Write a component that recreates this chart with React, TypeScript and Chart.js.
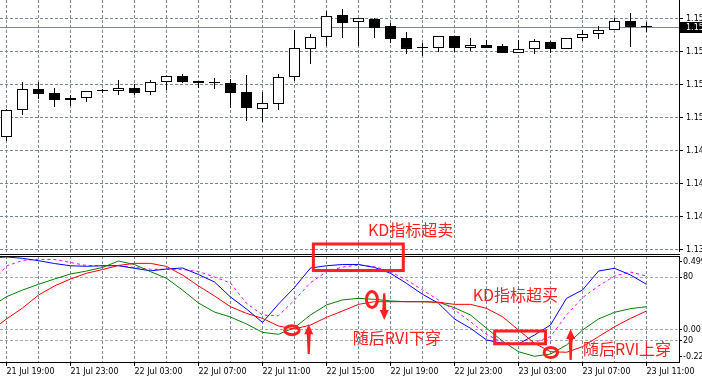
import React, { useEffect, useRef } from 'react';
import { Chart, registerables } from 'chart.js';

Chart.register(...registerables);

// ---- data (hourly bars; first entry is bar -1, just left of the view) ----
const timeLabels = [
  '21 Jul 19:00', '21 Jul 23:00', '22 Jul 03:00', '22 Jul 07:00', '22 Jul 11:00', '22 Jul 15:00',
  '22 Jul 19:00', '22 Jul 23:00', '23 Jul 03:00', '23 Jul 07:00', '23 Jul 11:00',
];

const openP = [1.14827, 1.14873, 1.15118, 1.15309, 1.15273, 1.15227, 1.15227, 1.15291, 1.15291, 1.15318, 1.15282,
  1.15373, 1.15427, 1.15382, 1.15364, 1.15364, 1.15282, 1.15127, 1.15173, 1.15418, 1.15673, 1.15782, 1.15982,
  1.15918, 1.15945, 1.15882, 1.15773, 1.15682, 1.15682, 1.15791, 1.15682, 1.15709, 1.157, 1.15636, 1.15673,
  1.15736, 1.15673, 1.15773, 1.15809, 1.15845, 1.15927, 1.15873];
const highP = [1.14882, 1.15127, 1.15373, 1.15373, 1.15318, 1.15255, 1.15291, 1.15309, 1.15391, 1.15355, 1.15391,
  1.15432, 1.15445, 1.15382, 1.15409, 1.154, 1.15436, 1.15282, 1.15445, 1.15845, 1.15809, 1.16018, 1.16036,
  1.15955, 1.15955, 1.15909, 1.15827, 1.15727, 1.15791, 1.15791, 1.15773, 1.15755, 1.15718, 1.15755, 1.15764,
  1.15745, 1.15773, 1.15845, 1.15882, 1.15955, 1.16, 1.15918];
const lowP = [1.14773, 1.14836, 1.15073, 1.15218, 1.15145, 1.15155, 1.15191, 1.15273, 1.15255, 1.15255, 1.15255,
  1.153, 1.15364, 1.15318, 1.15309, 1.15136, 1.15018, 1.15009, 1.15118, 1.15382, 1.15536, 1.157, 1.15773,
  1.157, 1.15773, 1.15727, 1.15627, 1.15609, 1.15645, 1.15645, 1.15655, 1.15682, 1.15636, 1.15636, 1.15627,
  1.15636, 1.15673, 1.15745, 1.15764, 1.15845, 1.15691, 1.15827];
const closeP = [1.14873, 1.15118, 1.15309, 1.15264, 1.15209, 1.15209, 1.15291, 1.15291, 1.15318, 1.15273, 1.15373,
  1.15427, 1.15373, 1.15364, 1.15364, 1.15273, 1.15136, 1.15182, 1.15418, 1.15682, 1.15782, 1.15973, 1.15909,
  1.15955, 1.15864, 1.15764, 1.15673, 1.15682, 1.15791, 1.15682, 1.15709, 1.15682, 1.15636, 1.15673, 1.15745,
  1.15673, 1.15773, 1.15809, 1.15845, 1.15927, 1.15873, 1.15873];

const stochMain = [98.1, 99.1, 97.8, 95.6, 92.9, 90.8, 90.3, 90.8, 90.8, 88.4, 86.0, 87.7, 88.7, 82.5, 75.5, 61.3,
  50.0, 37.3, 54.7, 70.3, 88.7, 90.8, 92.0, 92.0, 89.2, 83.7, 74.2, 63.9, 55.4, 40.6, 31.8, 20.8, 17.6, 17.0,
  25.5, 34.9, 60.1, 67.9, 85.8, 88.4, 82.1, 73.3];
const stochSignal = [73.6, 90.6, 95.8, 96.9, 96.7, 93.9, 91.0, 90.8, 91.0, 89.2, 87.5, 87.5, 87.3, 85.4, 80.2, 74.5,
  55.4, 44.3, 43.7, 58.5, 74.8, 85.2, 89.6, 91.5, 89.9, 85.2, 77.4, 67.9, 58.5, 49.1, 38.0, 26.1, 18.6, 17.3,
  18.6, 23.9, 44.3, 60.7, 71.7, 81.1, 84.9, 81.1];
const rviMain = [0.153, 0.223, 0.268, 0.307, 0.343, 0.377, 0.397, 0.421, 0.465, 0.441, 0.393, 0.348, 0.268, 0.18,
  0.119, 0.085, 0.038, -0.019, -0.032, 0.013, 0.099, 0.167, 0.201, 0.212, 0.205, 0.194, 0.189, 0.189, 0.185,
  0.148, 0.099, 0.009, -0.078, -0.15, -0.181, -0.166, -0.105, -0.003, 0.072, 0.117, 0.142, 0.155];
const rviSignal = [-0.01, 0.072, 0.146, 0.234, 0.296, 0.343, 0.382, 0.407, 0.435, 0.449, 0.449, 0.428, 0.37, 0.296,
  0.228, 0.155, 0.11, 0.076, 0.024, 0.004, 0.031, 0.083, 0.126, 0.171, 0.189, 0.189, 0.189, 0.189, 0.185,
  0.171, 0.171, 0.144, 0.087, -0.003, -0.093, -0.15, -0.154, -0.116, -0.048, 0.019, 0.076, 0.126];

const priceTicks = [1.1595, 1.1565, 1.1535, 1.1505, 1.1475, 1.1445, 1.1415, 1.1385];
const stochLevels = [80, 20];
const stochLevelLabels = ['80', '20'];
const rviLevels = [0];
const rviLevelLabels = ['0.00'];
const rviRange = [-0.22, 0.499];
const rviRangeLabels = ['-0.220', '0.499'];

// ---- annotations (data coordinates: x = bar index, y = panel value) ----
const oversoldBox = { x0: 19.18, x1: 24.8, topPrice: 1.139, bottomStoch: 86.3 };
const overboughtBox = { x0: 30.51, x1: 33.69, top: 29.2, bottom: 17.2 };
const topNote = { text: 'KD指标超卖', x: 22.59, price: 1.1403 };
const stochNotes = [{ text: 'KD指标超买', x: 29.14, value: 63.5 }];
const rviNotes = [
  { text: '随后RVI下穿', x: 21.64, value: -0.054 },
  { text: '随后RVI上穿', x: 36.03, value: -0.133 },
];
const rviRings = [
  { x: 17.84, value: -0.004, rx: 7.2, ry: 4.5 },
  { x: 22.84, value: 0.204, rx: 5.5, ry: 8 },
  { x: 34.02, value: -0.156, rx: 6.7, ry: 5 },
];
const rviArrows = [
  { x: 18.89, from: -0.165, to: 0.036 },
  { x: 23.61, from: 0.246, to: 0.065 },
  { x: 35.26, from: -0.206, to: 0.004 },
];

// ---- view / layout ----
const W = 702;
const TOP_H = 252;
const BOT_H = 125;
const AXIS_W = 23;
const LOWER_TOP_PAD = 4;
const X_AXIS_H = 15;
const LOWER_PLOT_H = BOT_H - LOWER_TOP_PAD - X_AXIS_H;
const X_MIN = -0.40625;
const X_MAX = 42.03125;
const PRICE_MIN = 1.13827;
const PRICE_MAX = 1.16118;
const GRID = '#778899';
const LEVEL = '#a8a8a8';
const ANNO = '#ff2020';
const AXIS_FONT = { family: 'DejaVu Sans', size: 8 };
const CJK_FONT = '16px "Noto Sans CJK SC"';

const gridSteps: number[] = [];
for (let v = 0; v <= 40; v += 2) gridSteps.push(v);

const xs = openP.map((_, i) => i - 1);

const rviToStoch = (r: number) => ((r - rviRange[0]) / (rviRange[1] - rviRange[0])) * 100;
const EDGE_INSET = (5.5 / LOWER_PLOT_H) * 100;

const lowerYTicks = [
  ...stochLevels.map((v, i) => ({ value: v, label: stochLevelLabels[i], level: true })),
  ...rviLevels.map((r, i) => ({ value: rviToStoch(r), label: rviLevelLabels[i], level: true })),
  { value: EDGE_INSET, label: rviRangeLabels[0], level: false },
  { value: 100 - EDGE_INSET, label: rviRangeLabels[1], level: false },
].sort((a, b) => a.value - b.value);

const fitY = (s: any) => {
  s.width = AXIS_W;
  s.paddingTop = 0; s.paddingBottom = 0; s.paddingLeft = 0; s.paddingRight = 0;
};
const fitX = (h: number) => (s: any) => {
  s.height = h;
  s.paddingTop = 0; s.paddingBottom = 0; s.paddingLeft = 0; s.paddingRight = 0;
};

function drawArrow(ctx: CanvasRenderingContext2D, x: number, yTail: number, yTip: number) {
  const dir = Math.sign(yTip - yTail);
  const head = 10;
  const half = 4.5;
  const yb = yTip - dir * head;
  ctx.beginPath();
  ctx.moveTo(x, yTip);
  ctx.lineTo(x + half, yb);
  ctx.lineTo(x + 2, yb);
  ctx.lineTo(x + 1.1, yTail);
  ctx.lineTo(x - 1.1, yTail);
  ctx.lineTo(x - 2, yb);
  ctx.lineTo(x - half, yb);
  ctx.closePath();
  ctx.fill();
}

const topDecor = {
  id: 'topDecor',
  beforeDatasetsDraw(chart: any) {
    const { ctx, chartArea: a, scales } = chart;
    const last = closeP[closeP.length - 1];
    const py = Math.round(scales.y.getPixelForValue(last)) + 0.5;
    ctx.save();
    ctx.strokeStyle = GRID;
    ctx.lineWidth = 1;
    ctx.beginPath();
    ctx.moveTo(a.left, py);
    ctx.lineTo(a.right, py);
    ctx.stroke();
    ctx.restore();
  },
  afterDraw(chart: any) {
    const { ctx, chartArea: a, scales } = chart;
    const { x, y } = scales;
    const last = closeP[closeP.length - 1];
    const py = Math.round(y.getPixelForValue(last));
    ctx.save();
    ctx.fillStyle = '#000';
    ctx.fillRect(a.right + 1, py - 5, chart.width - a.right - 1, 11);
    ctx.fillStyle = '#fff';
    ctx.font = '8px "DejaVu Sans"';
    ctx.textBaseline = 'middle';
    ctx.textAlign = 'left';
    ctx.fillText(last.toFixed(5), a.right + 7, py + 0.5);

    ctx.strokeStyle = ANNO;
    ctx.lineWidth = 3;
    const bx0 = x.getPixelForValue(oversoldBox.x0);
    const bx1 = x.getPixelForValue(oversoldBox.x1);
    const by0 = y.getPixelForValue(oversoldBox.topPrice);
    ctx.strokeRect(bx0, by0, bx1 - bx0, chart.height + 30 - by0);

    ctx.fillStyle = ANNO;
    ctx.font = CJK_FONT;
    ctx.fillText(topNote.text, x.getPixelForValue(topNote.x), y.getPixelForValue(topNote.price));
    ctx.restore();
  },
};

const lowerDecor = {
  id: 'lowerDecor',
  afterDraw(chart: any) {
    const { ctx, chartArea: a, scales } = chart;
    const { x, y, y2 } = scales;
    ctx.save();
    ctx.fillStyle = '#000';
    ctx.fillRect(0, a.top - 2, a.right + 1, 1);
    ctx.fillRect(0, a.top, a.right + 1, 1);

    ctx.strokeStyle = ANNO;
    ctx.fillStyle = ANNO;
    ctx.lineWidth = 3;
    {
      const bx0 = x.getPixelForValue(oversoldBox.x0);
      const bx1 = x.getPixelForValue(oversoldBox.x1);
      const by1 = y.getPixelForValue(oversoldBox.bottomStoch);
      ctx.strokeRect(bx0, -30, bx1 - bx0, by1 + 30);
    }
    {
      const bx0 = x.getPixelForValue(overboughtBox.x0);
      const bx1 = x.getPixelForValue(overboughtBox.x1);
      const by0 = y.getPixelForValue(overboughtBox.top);
      const by1 = y.getPixelForValue(overboughtBox.bottom);
      ctx.strokeRect(bx0, by0, bx1 - bx0, by1 - by0);
    }
    for (const r of rviRings) {
      ctx.beginPath();
      ctx.ellipse(x.getPixelForValue(r.x), y2.getPixelForValue(r.value), r.rx, r.ry, 0, 0, Math.PI * 2);
      ctx.stroke();
    }
    for (const ar of rviArrows) {
      drawArrow(ctx, x.getPixelForValue(ar.x), y2.getPixelForValue(ar.from), y2.getPixelForValue(ar.to));
    }
    ctx.font = CJK_FONT;
    ctx.textBaseline = 'middle';
    ctx.textAlign = 'left';
    for (const n of stochNotes) ctx.fillText(n.text, x.getPixelForValue(n.x), y.getPixelForValue(n.value));
    for (const n of rviNotes) ctx.fillText(n.text, x.getPixelForValue(n.x), y2.getPixelForValue(n.value));
    ctx.restore();
  },
};

export default function App() {
  const topRef = useRef<HTMLCanvasElement>(null);
  const botRef = useRef<HTMLCanvasElement>(null);

  useEffect(() => {
    Chart.defaults.font.family = 'DejaVu Sans';
    Chart.defaults.font.size = 8;

    const bodyColors = openP.map((o, i) => (closeP[i] > o ? '#ffffff' : '#000000'));

    const top = new Chart(topRef.current as HTMLCanvasElement, {
      type: 'bar',
      data: {
        datasets: [
          {
            label: 'body',
            data: xs.map((xv, i) => ({ x: xv, y: [openP[i], closeP[i]] })) as any,
            backgroundColor: bodyColors,
            borderColor: '#000',
            borderWidth: 1,
            borderSkipped: false,
            grouped: false,
            maxBarThickness: 11,
            barPercentage: 1,
            categoryPercentage: 1,
            minBarLength: 1,
            inflateAmount: 0,
            order: 0,
          } as any,
          {
            label: 'wick',
            data: xs.map((xv, i) => ({ x: xv, y: [lowP[i], highP[i]] })) as any,
            backgroundColor: '#000',
            borderWidth: 0,
            grouped: false,
            maxBarThickness: 1,
            barPercentage: 1,
            categoryPercentage: 1,
            inflateAmount: 0,
            order: 1,
          } as any,
        ],
      },
      options: {
        responsive: false,
        animation: false,
        devicePixelRatio: 1,
        events: [],
        layout: { padding: 0 },
        plugins: { legend: { display: false }, tooltip: { enabled: false } },
        scales: {
          x: {
            type: 'linear',
            min: X_MIN,
            max: X_MAX,
            offset: false,
            grid: { offset: false, color: GRID, drawTicks: false, lineWidth: 1 },
            border: { display: false, dash: [3, 2] },
            ticks: { display: false },
            afterBuildTicks: (s: any) => { s.ticks = gridSteps.map((v) => ({ value: v })); },
            afterFit: fitX(0),
          },
          y: {
            position: 'right',
            min: PRICE_MIN,
            max: PRICE_MAX,
            beginAtZero: false,
            grid: { color: GRID, tickColor: '#000', tickLength: 4, lineWidth: 1 },
            border: { display: true, color: '#000', width: 1, dash: [3, 2] },
            ticks: {
              color: '#000',
              font: AXIS_FONT,
              padding: 3,
              autoSkip: false,
              callback: (v: any) => Number(v).toFixed(5),
            },
            afterBuildTicks: (s: any) => { s.ticks = priceTicks.map((v) => ({ value: v })); },
            afterFit: fitY,
          },
        },
      } as any,
      plugins: [topDecor],
    });

    const lineDs = (data: number[], color: string, axis: string, order: number, dash: number[] = []) => ({
      data: xs.map((xv, i) => ({ x: xv, y: data[i] })),
      borderColor: color,
      borderWidth: 1,
      borderDash: dash,
      pointRadius: 0,
      tension: 0,
      fill: false,
      yAxisID: axis,
      order,
    });

    const bot = new Chart(botRef.current as HTMLCanvasElement, {
      type: 'line',
      data: {
        datasets: [
          lineDs(stochMain, '#0000ff', 'y', 2),
          lineDs(stochSignal, '#ff00ff', 'y', 3, [3, 3]),
          lineDs(rviMain, '#008000', 'y2', 1),
          lineDs(rviSignal, '#ff0000', 'y2', 0),
        ] as any,
      },
      options: {
        responsive: false,
        animation: false,
        devicePixelRatio: 1,
        events: [],
        layout: { padding: { top: LOWER_TOP_PAD, left: 0, right: 0, bottom: 0 } },
        plugins: { legend: { display: false }, tooltip: { enabled: false } },
        scales: {
          x: {
            type: 'linear',
            min: X_MIN,
            max: X_MAX,
            offset: false,
            grid: {
              offset: false,
              color: GRID,
              tickLength: 4,
              tickColor: (c: any) => (c.tick && c.tick.value % 4 === 0 ? '#000' : 'rgba(0,0,0,0)'),
            },
            border: { display: true, color: '#000', width: 1, dash: [3, 2] },
            ticks: {
              autoSkip: false,
              maxRotation: 0,
              minRotation: 0,
              align: 'start',
              padding: 1,
              color: '#000',
              font: AXIS_FONT,
              callback: (v: any) => (Number(v) % 4 === 0 ? timeLabels[Number(v) / 4] : ''),
            },
            afterBuildTicks: (s: any) => { s.ticks = gridSteps.map((v) => ({ value: v })); },
            afterFit: fitX(X_AXIS_H),
          },
          y: {
            position: 'right',
            min: 0,
            max: 100,
            grid: {
              color: (c: any) => (lowerYTicks[c.index] && lowerYTicks[c.index].level ? LEVEL : 'rgba(0,0,0,0)'),
              tickColor: '#000',
              tickLength: 3,
            },
            border: { display: true, color: '#000', width: 1, dash: [3, 2] },
            ticks: {
              color: '#000',
              font: AXIS_FONT,
              padding: 1,
              autoSkip: false,
              callback: (_v: any, i: number) => lowerYTicks[i].label,
            },
            afterBuildTicks: (s: any) => { s.ticks = lowerYTicks.map((t) => ({ value: t.value })); },
            afterFit: fitY,
          },
          y2: { display: false, min: rviRange[0], max: rviRange[1] },
        },
      } as any,
      plugins: [lowerDecor],
    });

    return () => {
      top.destroy();
      bot.destroy();
    };
  }, []);

  return (
    <div style={{ position: 'fixed', left: 0, top: 0, width: W, height: TOP_H + BOT_H, background: '#fff', overflow: 'hidden' }}>
      <canvas ref={topRef} width={W} height={TOP_H} style={{ position: 'absolute', left: 0, top: 0 }} />
      <canvas ref={botRef} width={W} height={BOT_H} style={{ position: 'absolute', left: 0, top: TOP_H }} />
    </div>
  );
}
